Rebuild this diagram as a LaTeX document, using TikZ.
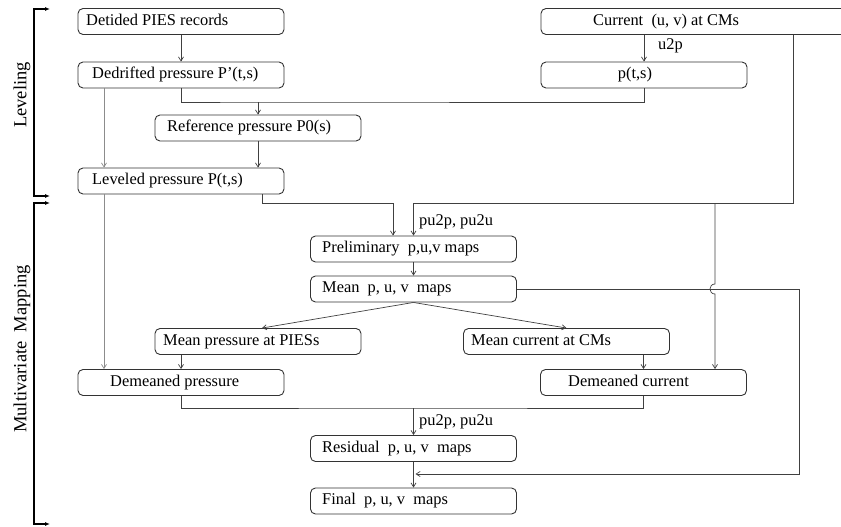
\documentclass[tikz,border=0pt]{standalone}
\usepackage{fontspec}
\setmainfont{Liberation Serif}
\usetikzlibrary{arrows.meta,calc}
\begin{document}
\begin{tikzpicture}[x=1pt,y=-1pt,
  box/.style={draw=black!80,line width=0.9pt,rounded corners=5pt,minimum width=206pt,minimum height=26pt,inner sep=0pt},
  txt/.style={anchor=west,inner sep=0pt,text height=11pt,text depth=3.5pt,font=\fontsize{16.4}{18}\selectfont},
  lbl/.style={txt},
  conn/.style={draw=black!75,line width=0.7pt},
  arr/.style={conn,-{Straight Barb[length=4pt,width=5pt]}},
  garr/.style={arr,draw=black!45},
  bracket/.style={line width=1.6pt,{Latex[length=5pt,width=4pt]}-{Latex[length=5pt,width=4pt]}},
  side/.style={rotate=90,inner sep=0pt,font=\fontsize{18.5}{20}\selectfont}]
\clip (0,0) rectangle (841,527);
\useasboundingbox (0,0) rectangle (841,527);
% boxes
\node[box] (det) at (181,21.5) {};
\node[box,minimum width=306pt] (cur) at (694,21.5) {};
\node[box] (ded) at (181,75) {};
\node[box] (pts) at (644,75) {};
\node[box] (ref) at (258,128) {};
\node[box] (lev) at (181,181) {};
\node[box] (prel) at (413.5,249) {};
\node[box] (mean) at (413.5,289) {};
\node[box] (mpp) at (258,341.5) {};
\node[box] (mcc) at (566.5,341.5) {};
\node[box] (demp) at (181,382.5) {};
\node[box] (demc) at (643.5,382.5) {};
\node[box] (res) at (413.5,448.5) {};
\node[box] (fin) at (413.5,501) {};
% texts
\node[txt] at (86,21.5) {Detided PIES records};
\node[txt] at (593,21.5) {Current\ \ (u, v) at CMs};
\node[txt] at (92,75) {Dedrifted pressure P’(t,s)};
\node[txt,anchor=center] at (635,75) {p(t,s)};
\node[txt] at (167,128) {Reference pressure P0(s)};
\node[txt] at (92,181) {Leveled pressure P(t,s)};
\node[txt] at (322,249) {Preliminary\ \ p,u,v maps};
\node[txt] at (322,289) {Mean\ \ p, u, v\ \ maps};
\node[txt] at (163,341.5) {Mean pressure at PIESs};
\node[txt] at (471,341.5) {Mean current at CMs};
\node[txt] at (110,382.5) {Demeaned pressure};
\node[txt] at (568,382.5) {Demeaned current};
\node[txt] at (322,448.5) {Residual\ \ p, u, v\ \ maps};
\node[txt] at (322,501) {Final\ \ p, u, v\ \ maps};
% connector labels
\node[lbl] at (658,46) {u2p};
\node[lbl] at (419,222) {pu2p, pu2u};
\node[lbl] at (419,422) {pu2p, pu2u};
% junction coordinates
\coordinate (j1) at (258,102);
\coordinate (j2) at (393,203);
\coordinate (j3) at (413.5,203);
\coordinate (j4) at (715,203);
\coordinate (j5) at (799,474);
\coordinate (j6) at (413.5,408);
% connectors
\draw[arr] (det.south) -- (ded.north);
\draw[arr] (pts.north |- cur.south) -- (pts.north);
\draw[conn] (ded.south) |- (j1) -| (pts.south);
\draw[arr] (j1) -- (ref.north);
\draw[garr] ([xshift=-77pt]ded.south) -- ([xshift=-77pt]lev.north);
\draw[arr] (ref.south) -- (ref.south |- lev.north);
\draw[arr] ([xshift=81pt]lev.south) |- (j2) -- (j2 |- prel.north);
\draw[arr] ([xshift=99pt]cur.south) |- (j3) -- (prel.north);
\draw[arr] (j4) -- (715,284) .. controls (708.3,284) and (708.3,294) .. (715,294) -- (j4 |- demc.north);
\draw[arr] (prel.south) -- (mean.north);
\draw[arr] (mean.south) -- ([xshift=4pt]mpp.north);
\draw[arr] (mean.south) -- (mcc.north);
\draw[arr] (mean.east) -| (j5) -- ([xshift=2pt]res.south |- j5);
\draw[arr] (demp.north |- mpp.south) -- (demp.north);
\draw[garr] ([xshift=-77pt]lev.south) -- ([xshift=-77pt]demp.north);
\draw[arr] (demc.north |- mcc.south) -- (demc.north);
\draw[conn] (demp.south) |- (j6) -| (demc.south);
\draw[arr] (j6) -- (res.north);
\draw[arr] (res.south) -- (fin.north);
% side brackets
\coordinate (b1) at (50,9);
\coordinate (b2) at (50,196);
\coordinate (b3) at (50,203);
\coordinate (b4) at (50,524);
\draw[bracket] (b1) -- (34,9) -- (34,196) -- (b2);
\draw[bracket] (b3) -- (34,203) -- (34,524) -- (b4);
\node[side] (lv) at (22,95) {Leveling};
\node[side] (mm) at (22,349) {Multivariate\ \ Mapping};
\end{tikzpicture}
\end{document}
